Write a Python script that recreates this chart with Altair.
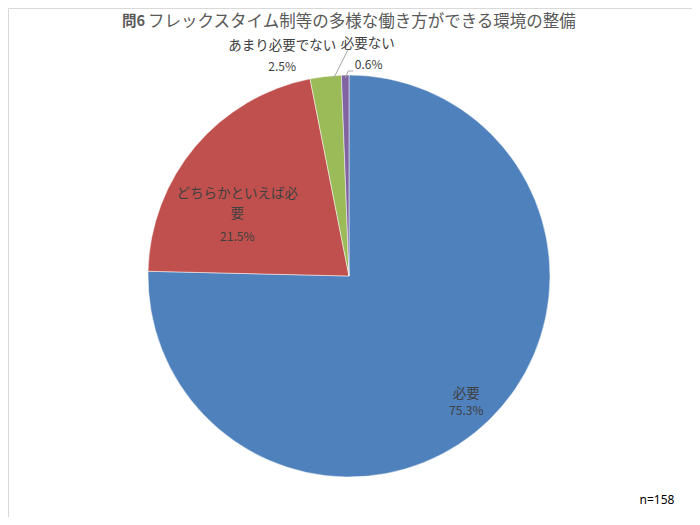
import math
import altair as alt
import pandas as pd

categories = ["必要", "どちらかといえば必要", "あまり必要でない", "必要ない"]
values = [75.3, 21.5, 2.5, 0.6]
pct_labels = ["75.3%", "21.5%", "2.5%", "0.6%"]
colors = ["#4F81BD", "#C0504D", "#9BBB59", "#8064A2"]
title_head = "問6"
title_body = "フレックスタイム制等の多様な働き方ができる環境の整備"
note_text = "n=158"

# derived table: stacked angles from the values
total = sum(values)
rows = []
cum = 0.0
for i, (c, v, p) in enumerate(zip(categories, values, pct_labels)):
    mid = (cum + v / 2) / total * 2 * math.pi
    rows.append({"idx": i, "cat": c, "value": v, "pct": p, "mid": mid})
    cum += v
df = pd.DataFrame(rows)

CX, CY, R = 341, 268, 201
W, H = 684, 509
FONT = "Noto Sans CJK JP"

base = alt.Chart(df)

pie = base.mark_arc(outerRadius=R, stroke="white", strokeWidth=0.5).encode(
    theta=alt.Theta("value:Q", stack=True),
    order=alt.Order("idx:Q"),
    color=alt.Color("cat:N", scale=alt.Scale(domain=categories, range=colors), legend=None),
    x=alt.value(CX),
    y=alt.value(CY),
)


def pos_layer(cat, r, text_field, dx, dy, size, color, text_override=None):
    ch = base.transform_filter(alt.datum.cat == cat).transform_calculate(
        px=f"{CX} + {r} * sin(datum.mid)",
        py=f"{CY} - {r} * cos(datum.mid)",
    )
    enc = dict(
        x=alt.X("px:Q", scale=None),
        y=alt.Y("py:Q", scale=None),
    )
    if text_override is not None:
        mk = ch.mark_text(dx=dx, dy=dy, fontSize=size, color=color, font=FONT, text=text_override)
        return mk.encode(**enc)
    mk = ch.mark_text(dx=dx, dy=dy, fontSize=size, color=color, font=FONT)
    return mk.encode(text=alt.Text(f"{text_field}:N"), **enc)


LC = "#404040"
PC = "#404040"
labels = [
    pos_layer("必要", 165, "cat", 2, 0, 13.5, LC),
    pos_layer("必要", 165, "pct", 2, 17, 12, PC),
    pos_layer("どちらかといえば必要", 146, None, 0, 12, 13.5, LC, text_override="どちらかといえば必"),
    pos_layer("どちらかといえば必要", 146, None, 0, 32, 13.5, LC, text_override="要"),
    pos_layer("どちらかといえば必要", 146, "pct", 0, 55, 12, PC),
    pos_layer("あまり必要でない", 231, "cat", -40, -1, 13.5, LC),
    pos_layer("あまり必要でない", 231, "pct", -40, 20, 12, PC),
    pos_layer("必要ない", 231, "cat", 23, -1, 13.5, LC),
    pos_layer("必要ない", 231, "pct", 24, 20, 12, PC),
]


def leader(cat, ox1, oy1, ox2, oy2):
    return base.transform_filter(alt.datum.cat == cat).transform_calculate(
        sx=f"{CX} + {R} * sin(datum.mid) + {ox1}",
        sy=f"{CY} - {R} * cos(datum.mid) + {oy1}",
        ex=f"{CX} + {R} * sin(datum.mid) + {ox2}",
        ey=f"{CY} - {R} * cos(datum.mid) + {oy2}",
    ).mark_rule(color="#A6A6A6", strokeWidth=1).encode(
        x=alt.X("sx:Q", scale=None),
        y=alt.Y("sy:Q", scale=None),
        x2="ex:Q",
        y2="ey:Q",
    )


leaders = [
    leader("あまり必要でない", 8, 2, 22, -26),
    leader("必要ない", 0, 3, 3, -4),
    leader("必要ない", 3, -4, 8, -4),
]

head = alt.Chart(pd.DataFrame({"t": [title_head]})).mark_text(
    fontSize=14.5, fontWeight="bold", color="#595959", font=FONT, align="left"
).encode(text="t:N", x=alt.value(114), y=alt.value(13.5))

body = alt.Chart(pd.DataFrame({"t": [title_body]})).mark_text(
    fontSize=16.5, fontWeight="normal", color="#595959", font=FONT, align="left"
).encode(text="t:N", x=alt.value(140), y=alt.value(13.5))

note = alt.Chart(pd.DataFrame({"t": [note_text]})).mark_text(
    fontSize=12, color="#000000", font="Noto Sans", align="center"
).encode(text="t:N", x=alt.value(649), y=alt.value(492))

chart = alt.layer(pie, *leaders, *labels, head, body, note).properties(
    width=W, height=H, padding=0
).configure_view(stroke="#D9D9D9", strokeWidth=1)

chart.save("out.html", embed_options={"renderer": "svg", "actions": False})
